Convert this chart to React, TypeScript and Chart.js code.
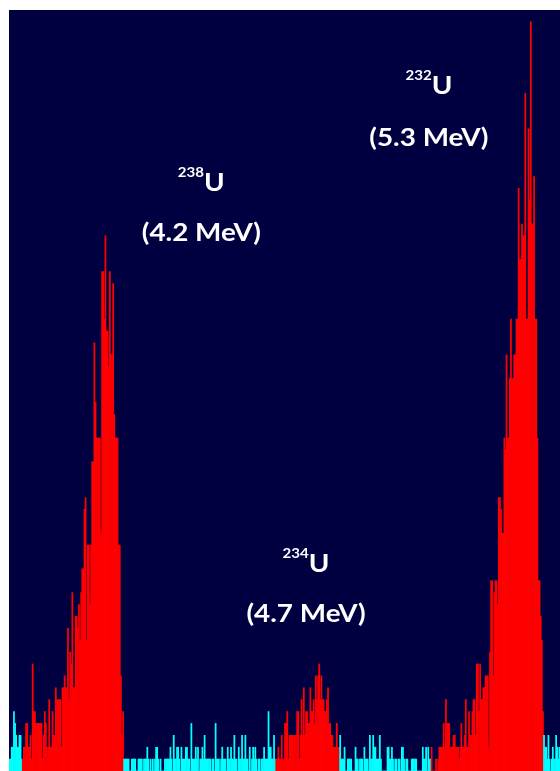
import React, { useEffect, useRef } from "react";
import { Chart, registerables } from "chart.js";

Chart.register(...registerables);

// Alpha spectrum, counts per channel (500 channels across the plot).
// Background channels below the 238U window
const lowTail = [1, 1, 2, 2, 5, 4, 3, 2, 2, 3, 3, 1];

// 238U region of interest
const u238Counts = [
  1, 2, 2, 4, 4, 2, 2, 3, 1, 9,
  5, 5, 4, 4, 4, 4, 4, 4, 1, 3,
  5, 4, 2, 2, 6, 2, 2, 5, 3, 3,
  7, 6, 6, 6, 6, 2, 7, 7, 8, 7,
  7, 12, 6, 10, 9, 15, 7, 7, 13, 13,
  12, 14, 11, 15, 17, 17, 22, 23, 11, 19,
  19, 14, 19, 26, 26, 36, 31, 28, 28, 28,
  28, 20, 42, 42, 38, 45, 37, 37, 34, 42,
  35, 35, 41, 30, 28, 28, 28, 19, 19, 8,
  3, 5,
];

// Background between 238U and 234U
const gapA = [
  1, 1, 1, 1, 1, 0, 0, 1, 1, 1,
  1, 0, 0, 1, 1, 1, 1, 0, 1, 1,
  1, 2, 1, 0, 1, 0, 1, 0, 1, 2,
  2, 1, 0, 1, 0, 0, 0, 1, 1, 1,
  1, 1, 2, 1, 0, 3, 1, 1, 2, 2,
  1, 0, 2, 1, 1, 1, 2, 2, 1, 1,
  0, 4, 1, 1, 1, 2, 1, 2, 0, 1,
  1, 2, 1, 3, 1, 1, 1, 1, 1, 0,
  1, 1, 0, 4, 1, 1, 1, 0, 1, 2,
  1, 1, 1, 0, 2, 1, 1, 2, 1, 1,
  3, 1, 1, 0, 2, 1, 1, 3, 1, 1,
  3, 1, 1, 0, 2, 0, 1, 2, 1, 2,
  1, 0, 1, 1, 0, 1, 1, 2, 1, 1,
  1, 5, 2, 2, 1, 1, 3, 1,
];

// 234U region of interest
const u234Counts = [
  1, 1, 2, 1, 1, 3, 1, 1, 4, 4,
  5, 1, 3, 3, 3, 3, 3, 3, 3, 5,
  5, 1, 3, 6, 3, 7, 3, 5, 5, 4,
  4, 7, 5, 5, 6, 4, 8, 6, 8, 9,
  6, 8, 6, 6, 5, 5, 6, 7, 4, 4,
  3, 3, 2, 2, 2, 4, 2, 2,
];

// Background between 234U and 232U
const gapB = [
  3, 1, 1, 1, 2, 0, 0, 1, 1, 1,
  1, 0, 0, 0, 2, 1, 1, 0, 1, 1,
  1, 0, 2, 1, 1, 1, 0, 3, 1, 1,
  3, 2, 2, 1, 1, 1, 3, 1, 0, 0,
  0, 0, 0, 2, 2, 1, 1, 2, 1, 0,
  1, 1, 0, 1, 1, 0, 2, 2, 1, 0,
  1, 1, 0, 0, 0, 1, 1, 1, 1, 1,
  0, 0, 0, 0, 0, 2, 1, 1, 2, 0,
  2, 1, 1,
];

// 232U tracer region of interest
const u232Counts = [
  2, 0, 0, 0, 1, 0, 1, 2, 2, 2,
  2, 4, 2, 6, 4, 4, 4, 2, 2, 2,
  3, 3, 2, 2, 2, 1, 2, 4, 2, 2,
  3, 6, 2, 2, 5, 3, 3, 5, 6, 6,
  3, 9, 9, 5, 9, 6, 6, 7, 7, 8,
  8, 8, 2, 10, 16, 16, 8, 15, 16, 16,
  14, 23, 23, 22, 20, 20, 28, 27, 35, 28,
  28, 33, 38, 33, 33, 35, 35, 38, 38, 49,
  43, 43, 46, 45, 45, 57, 38, 38, 54, 48,
  63, 46, 46, 50, 38, 38, 28, 16, 16, 13,
  11, 5,
];

// Background above the 232U window
const highTail = [3, 2, 2, 1, 3, 1, 0, 1, 2, 1, 1, 3, 2, 1, 2];

// Peak annotations
const isotopeMasses = ["238", "234", "232"];
const peakEnergies = ["(4.2 MeV)", "(4.7 MeV)", "(5.3 MeV)"];

const Y_MAX = 64;
const NAVY = "#000040";
const ROI_RED = "#ff0000";
const BKG_CYAN = "#00ffff";

// Label anchors: [channel of label centre, count at "U" baseline, count at energy baseline]
const labelAnchors: [number, number, number][] = [
  [174.0, 48.8, 44.6],
  [269.0, 16.7, 12.5],
  [380.5, 56.9, 52.6],
];

const segments: { values: number[]; roi: boolean }[] = [
  { values: lowTail, roi: false },
  { values: u238Counts, roi: true },
  { values: gapA, roi: false },
  { values: u234Counts, roi: true },
  { values: gapB, roi: false },
  { values: u232Counts, roi: true },
  { values: highTail, roi: false },
];

const counts: number[] = [];
const colors: string[] = [];
segments.forEach((s) => {
  s.values.forEach((v) => {
    counts.push(v);
    colors.push(s.roi ? ROI_RED : BKG_CYAN);
  });
});
const channels = counts.map((_, i) => String(i));

const FONT = "Lato, 'Open Sans', sans-serif";
const MAIN_SIZE = 24;
const SUP_SIZE = 13;
const STRETCH = 1.16;
const SUP_RAISE = 14;

const labelPlugin = {
  id: "isotopeLabels",
  afterDatasetsDraw(chart: any) {
    const { ctx, scales } = chart;
    const x = scales.x;
    const y = scales.y;
    ctx.save();
    ctx.fillStyle = "#ffffff";
    ctx.textBaseline = "alphabetic";
    isotopeMasses.forEach((mass, i) => {
      const [ch, uCount, eCount] = labelAnchors[i];
      const cx = x.getPixelForValue(ch);
      const yU = y.getPixelForValue(uCount);
      const yE = y.getPixelForValue(eCount);

      const supFont = `bold ${SUP_SIZE}px ${FONT}`;
      const mainFont = `bold ${MAIN_SIZE}px ${FONT}`;
      ctx.font = supFont;
      const wm = ctx.measureText(mass).width;
      ctx.font = mainFont;
      const wu = ctx.measureText("U").width;
      const total = (wm + wu) * STRETCH;

      ctx.save();
      ctx.translate(cx - total / 2, yU);
      ctx.scale(STRETCH, 1);
      ctx.textAlign = "left";
      ctx.font = supFont;
      ctx.fillText(mass, 0, -SUP_RAISE);
      ctx.font = mainFont;
      ctx.fillText("U", wm, 0);
      ctx.restore();

      ctx.save();
      ctx.translate(cx, yE);
      ctx.scale(STRETCH, 1);
      ctx.textAlign = "center";
      ctx.font = mainFont;
      ctx.fillText(peakEnergies[i], 0, 0);
      ctx.restore();
    });
    ctx.restore();
  },
};

export default function App() {
  const canvasRef = useRef<HTMLCanvasElement | null>(null);

  useEffect(() => {
    if (!canvasRef.current) return;
    const chart = new Chart(canvasRef.current, {
      type: "bar",
      data: {
        labels: channels,
        datasets: [
          {
            data: counts,
            backgroundColor: colors,
            borderWidth: 0,
            barPercentage: 1,
            categoryPercentage: 1,
          },
        ],
      },
      options: {
        animation: false,
        responsive: false,
        devicePixelRatio: 1,
        events: [],
        layout: { padding: 0 },
        plugins: {
          legend: { display: false },
          tooltip: { enabled: false },
        },
        scales: {
          x: { display: false },
          y: { display: false, min: 0, max: Y_MAX },
        },
      },
      plugins: [labelPlugin],
    });
    return () => chart.destroy();
  }, []);

  return (
    <div style={{ position: "fixed", left: 9, top: 10, width: 551, height: 761 }}>
      <canvas
        ref={canvasRef}
        width={551}
        height={761}
        style={{ display: "block", width: 551, height: 761, background: NAVY }}
      />
    </div>
  );
}
